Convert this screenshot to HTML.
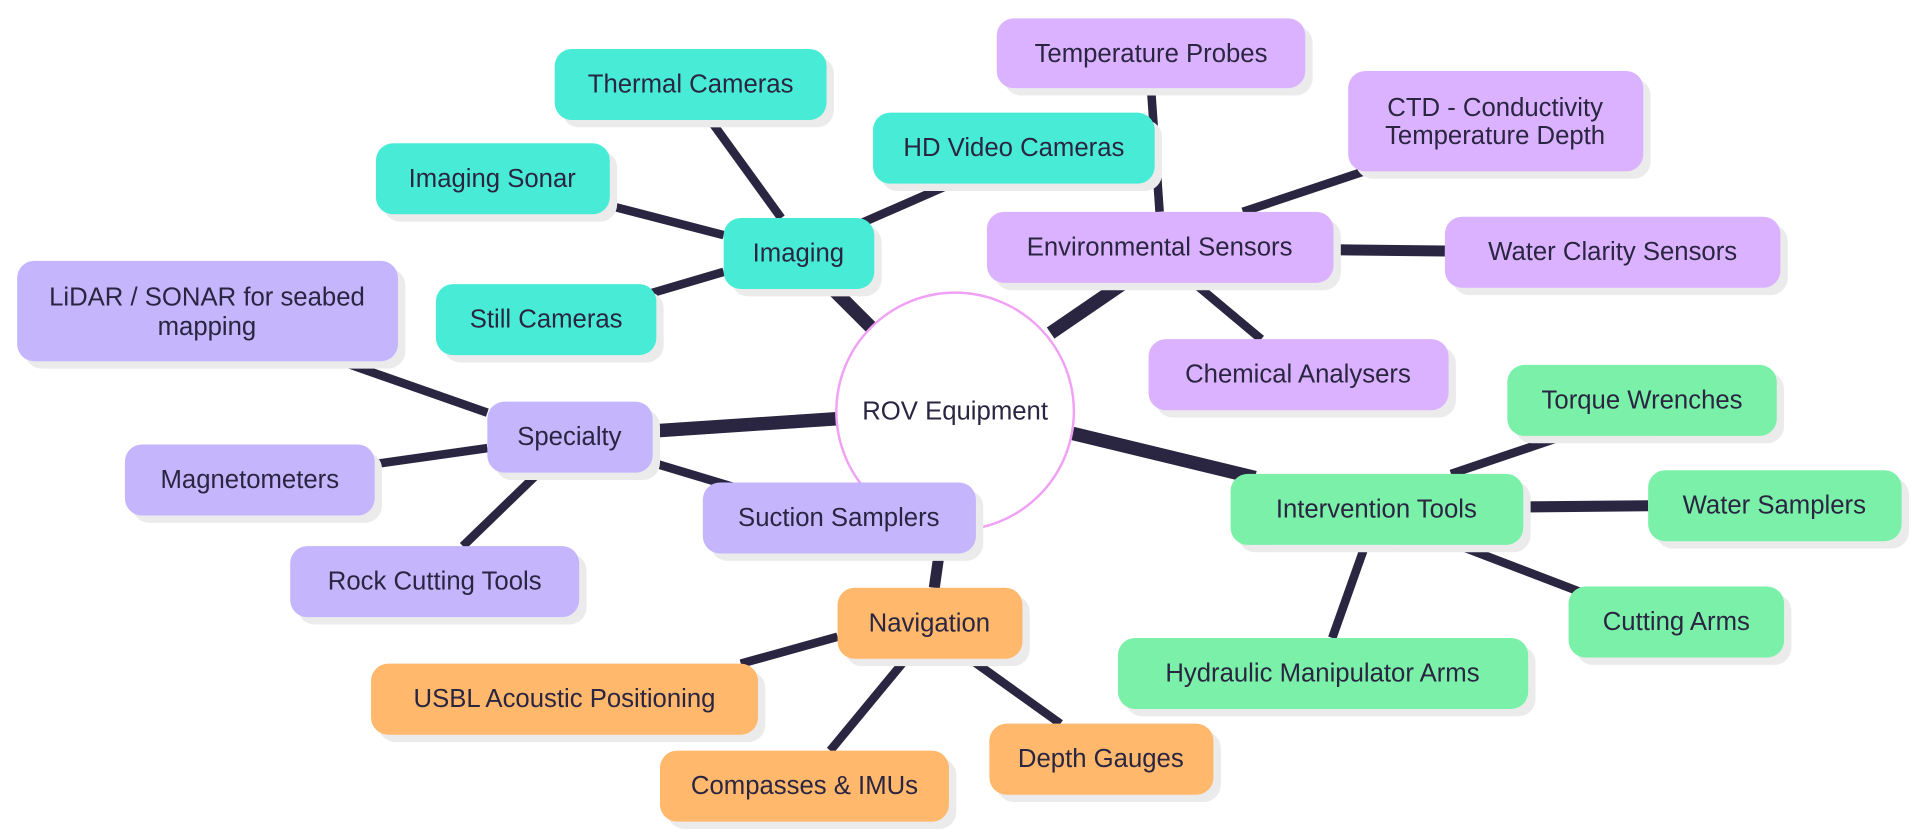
<!DOCTYPE html>
<html><head><meta charset="utf-8"><style>
html,body{margin:0;padding:0;background:#fff;}
svg{display:block}
text{font-family:"Liberation Sans",sans-serif;font-size:21px;fill:#2a2540;text-anchor:middle;dominant-baseline:central}
.s{fill:#ebebeb}
.t{fill:#48ecd6}.p{fill:#dbb2ff}.l{fill:#c4b5fd}.g{fill:#7af0a8}.o{fill:#ffb86c}
</style></head><body>
<svg width="1920" height="840" viewBox="0 0 1568 686" preserveAspectRatio="none" xmlns="http://www.w3.org/2000/svg">
<g stroke="#2a2540" stroke-linecap="butt">
<g stroke-width="7">
<line x1="638" y1="178" x2="580" y2="98"/>
<line x1="591" y1="192" x2="498" y2="168"/>
<line x1="704" y1="182" x2="777" y2="150"/>
<line x1="591" y1="222" x2="530" y2="240"/>
<line x1="947" y1="173" x2="940" y2="72"/>
<line x1="1015" y1="173" x2="1120" y2="138"/>
<line x1="975" y1="231" x2="1030" y2="277"/>
<line x1="398" y1="337" x2="278" y2="295"/>
<line x1="398" y1="366" x2="306" y2="379"/>
<line x1="440" y1="386" x2="378" y2="446"/>
<line x1="530" y1="377" x2="600" y2="398"/>
<line x1="684" y1="520" x2="605" y2="542"/>
<line x1="740" y1="538" x2="678" y2="613"/>
<line x1="792" y1="538" x2="866" y2="591"/>
<line x1="1185" y1="387" x2="1280" y2="355"/>
<line x1="1190" y1="445" x2="1300" y2="487"/>
<line x1="1115" y1="445" x2="1088" y2="521"/>
</g>
<g stroke-width="9">
<line x1="1089" y1="204" x2="1180" y2="205"/>
<line x1="1244" y1="414" x2="1346" y2="413"/>
<line x1="767" y1="452" x2="763" y2="480"/>
</g>
<g stroke-width="11">
<line x1="712" y1="268" x2="680" y2="236"/>
<line x1="858" y1="272" x2="918" y2="231"/>
<line x1="683" y1="342" x2="533" y2="352"/>
<line x1="876" y1="354" x2="1025" y2="390"/>
</g>
</g>
<circle cx="780" cy="336" r="97" fill="#fff" stroke="#f0a0f5" stroke-width="2"/>
<text x="780" y="336">ROV Equipment</text>

<rect class="s" x="459" y="46" width="222" height="58" rx="14"/><rect class="t" x="453" y="40" width="222" height="58" rx="14"/><text x="564" y="69">Thermal Cameras</text>
<rect class="s" x="313" y="123" width="191" height="58" rx="14"/><rect class="t" x="307" y="117" width="191" height="58" rx="14"/><text x="402" y="146">Imaging Sonar</text>
<rect class="s" x="719" y="98" width="230" height="58" rx="14"/><rect class="t" x="713" y="92" width="230" height="58" rx="14"/><text x="828" y="121">HD Video Cameras</text>
<rect class="s" x="597" y="184" width="123" height="58" rx="14"/><rect class="t" x="591" y="178" width="123" height="58" rx="14"/><text x="652" y="207">Imaging</text>
<rect class="s" x="362" y="238" width="180" height="58" rx="14"/><rect class="t" x="356" y="232" width="180" height="58" rx="14"/><text x="446" y="261">Still Cameras</text>

<rect class="s" x="820" y="21" width="252" height="57" rx="14"/><rect class="p" x="814" y="15" width="252" height="57" rx="14"/><text x="940" y="44">Temperature Probes</text>
<rect class="s" x="1107" y="64" width="241" height="82" rx="14"/><rect class="p" x="1101" y="58" width="241" height="82" rx="14"/><text x="1221" y="88">CTD - Conductivity</text><text x="1221" y="111">Temperature Depth</text>
<rect class="s" x="812" y="179" width="283" height="58" rx="14"/><rect class="p" x="806" y="173" width="283" height="58" rx="14"/><text x="947" y="202">Environmental Sensors</text>
<rect class="s" x="1186" y="183" width="274" height="58" rx="14"/><rect class="p" x="1180" y="177" width="274" height="58" rx="14"/><text x="1317" y="206">Water Clarity Sensors</text>
<rect class="s" x="944" y="283" width="245" height="58" rx="14"/><rect class="p" x="938" y="277" width="245" height="58" rx="14"/><text x="1060" y="306">Chemical Analysers</text>

<rect class="s" x="20" y="219" width="311" height="82" rx="14"/><rect class="l" x="14" y="213" width="311" height="82" rx="14"/><text x="169" y="243">LiDAR / SONAR for seabed</text><text x="169" y="267">mapping</text>
<rect class="s" x="404" y="334" width="135" height="58" rx="14"/><rect class="l" x="398" y="328" width="135" height="58" rx="14"/><text x="465" y="357">Specialty</text>
<rect class="s" x="108" y="369" width="204" height="58" rx="14"/><rect class="l" x="102" y="363" width="204" height="58" rx="14"/><text x="204" y="392">Magnetometers</text>
<rect class="s" x="580" y="400" width="223" height="58" rx="14"/><rect class="l" x="574" y="394" width="223" height="58" rx="14"/><text x="685" y="423">Suction Samplers</text>
<rect class="s" x="243" y="452" width="236" height="58" rx="14"/><rect class="l" x="237" y="446" width="236" height="58" rx="14"/><text x="355" y="475">Rock Cutting Tools</text>

<rect class="s" x="1237" y="304" width="220" height="58" rx="14"/><rect class="g" x="1231" y="298" width="220" height="58" rx="14"/><text x="1341" y="327">Torque Wrenches</text>
<rect class="s" x="1011" y="393" width="239" height="58" rx="14"/><rect class="g" x="1005" y="387" width="239" height="58" rx="14"/><text x="1124" y="416">Intervention Tools</text>
<rect class="s" x="1352" y="390" width="207" height="58" rx="14"/><rect class="g" x="1346" y="384" width="207" height="58" rx="14"/><text x="1449" y="413">Water Samplers</text>
<rect class="s" x="1287" y="485" width="176" height="58" rx="14"/><rect class="g" x="1281" y="479" width="176" height="58" rx="14"/><text x="1369" y="508">Cutting Arms</text>
<rect class="s" x="919" y="527" width="335" height="58" rx="14"/><rect class="g" x="913" y="521" width="335" height="58" rx="14"/><text x="1080" y="550">Hydraulic Manipulator Arms</text>

<rect class="s" x="690" y="486" width="151" height="58" rx="14"/><rect class="o" x="684" y="480" width="151" height="58" rx="14"/><text x="759" y="509">Navigation</text>
<rect class="s" x="309" y="548" width="316" height="58" rx="14"/><rect class="o" x="303" y="542" width="316" height="58" rx="14"/><text x="461" y="571">USBL Acoustic Positioning</text>
<rect class="s" x="545" y="619" width="236" height="58" rx="14"/><rect class="o" x="539" y="613" width="236" height="58" rx="14"/><text x="657" y="642">Compasses &amp; IMUs</text>
<rect class="s" x="814" y="597" width="183" height="58" rx="14"/><rect class="o" x="808" y="591" width="183" height="58" rx="14"/><text x="899" y="620">Depth Gauges</text>
</svg>
</body></html>
